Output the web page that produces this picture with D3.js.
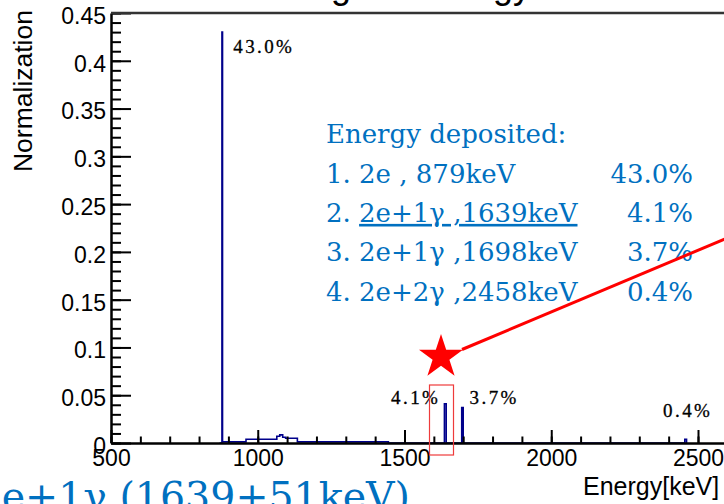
<!DOCTYPE html>
<html>
<head>
<meta charset="utf-8">
<title>Deposited energy</title>
<script src="https://cdn.jsdelivr.net/npm/d3@7"></script>
<style>
  body { margin: 0; background: #fff; }
  svg { display: block; }
</style>
</head>
<body>
<svg id="chart" width="724" height="504"></svg>
<script>
// histogram, left bin edges (keV) and bin contents
var binEdges  = [870, 878, 880, 960, 1065, 1075, 1085, 1095, 1135, 1445, 1636, 1642, 1695, 1700, 2455, 2461];
var binValues = [0, 0.430, 0.0012, 0.004, 0.007, 0.0085, 0.006, 0.005, 0.0012, 0, 0.041, 0, 0.037, 0, 0.004, 0];

// labelled peaks
var peakEnergy = [879, 1639, 1698, 2458];
var peakValue  = [0.430, 0.041, 0.037, 0.004];
var peakLabel  = ["43.0%", "4.1%", "3.7%", "0.4%"];

// axis ticks
var xMajor = [500, 1000, 1500, 2000, 2500, 3000];
var xMajorLabels = ["500", "1000", "1500", "2000", "2500", "3000"];
var xMinor = d3.range(500, 3001, 100);
var yMajor = [0, 0.05, 0.1, 0.15, 0.2, 0.25, 0.3, 0.35, 0.4, 0.45];
var yMajorLabels = ["0", "0.05", "0.1", "0.15", "0.2", "0.25", "0.3", "0.35", "0.4", "0.45"];
var yMinor = d3.range(0, 0.4501, 0.01);

// note box
var noteTitle = "Energy deposited:";
var noteNum   = ["1. ", "2. ", "3. ", "4. "];
var noteMode  = ["2e , 879keV", "2e+1\u03b3 ,1639keV", "2e+1\u03b3 ,1698keV", "2e+2\u03b3 ,2458keV"];
var notePct   = ["43.0%", "4.1%", "3.7%", "0.4%"];
var bottomText = "2e+1\u03b3 (1639+51keV)";

var svg = d3.select("#chart");

var x = d3.scaleLinear().domain([500, 3000]).range([111, 844.75]);
var y = d3.scaleLinear().domain([0, 0.45]).range([443, 13]);

// title (cut off at the top, only descenders show)
svg.append("text")
    .attr("x", 407).attr("y", -2)
    .attr("text-anchor", "middle")
    .attr("font-family", "Liberation Sans, Arial, sans-serif")
    .attr("font-size", 36)
    .text("Original Energy");

// histogram line
var pts = binEdges.map(function(e, i) { return [e, binValues[i]]; });
var line = d3.line()
    .x(function(d) { return x(d[0]); })
    .y(function(d) { return y(d[1]); })
    .curve(d3.curveStepAfter);

svg.append("path")
    .datum(pts)
    .attr("fill", "none")
    .attr("stroke", "#00008b")
    .attr("stroke-width", 1.6)
    .attr("d", line);

// minor ticks
svg.append("g")
    .attr("transform", "translate(" + x(500) + ",0)")
    .call(d3.axisLeft(y).tickValues(yMinor).tickSize(-10).tickSizeOuter(0).tickFormat(""))
    .call(function(g) { g.select(".domain").remove(); g.selectAll("line").attr("stroke-width", 2); });
svg.append("g")
    .attr("transform", "translate(0," + y(0) + ")")
    .call(d3.axisBottom(x).tickValues(xMinor).tickSize(-6.5).tickSizeOuter(0).tickFormat(""))
    .call(function(g) { g.select(".domain").remove(); g.selectAll("line").attr("stroke-width", 2); });

// major ticks and labels
var yAx = svg.append("g")
    .attr("transform", "translate(" + x(500) + ",0)")
    .call(d3.axisLeft(y).tickValues(yMajor).tickSize(-20).tickSizeOuter(0).tickPadding(5)
        .tickFormat(function(d, i) { return yMajorLabels[i]; }));
yAx.selectAll("line").attr("stroke-width", 2);
yAx.select(".domain").attr("stroke-width", 2.5);
yAx.selectAll("text")
    .attr("font-family", "Liberation Sans, Arial, sans-serif")
    .attr("font-size", 23)
    .attr("fill", "#000")
    .attr("dy", "0.45em");

var xAx = svg.append("g")
    .attr("transform", "translate(0," + y(0) + ")")
    .call(d3.axisBottom(x).tickValues(xMajor).tickSize(-13).tickSizeOuter(0).tickPadding(6)
        .tickFormat(function(d, i) { return xMajorLabels[i]; }));
xAx.selectAll("line").attr("stroke-width", 2);
xAx.select(".domain").attr("stroke-width", 2.5);
xAx.selectAll("text")
    .attr("font-family", "Liberation Sans, Arial, sans-serif")
    .attr("font-size", 23)
    .attr("fill", "#000")
    .attr("y", 0).attr("dy", 23);

// top frame
svg.append("line")
    .attr("x1", x(500)).attr("x2", 724)
    .attr("y1", y(0.45)).attr("y2", y(0.45))
    .attr("stroke", "#333").attr("stroke-width", 2.5);

// axis titles
svg.append("text")
    .attr("transform", "translate(32,10) rotate(-90)")
    .attr("text-anchor", "end")
    .attr("font-family", "Liberation Sans, Arial, sans-serif")
    .attr("font-size", 26.5)
    .text("Normalization");
svg.append("text")
    .attr("x", 583).attr("y", 495)
    .attr("font-family", "Liberation Sans, Arial, sans-serif")
    .attr("font-size", 25)
    .text("Energy[keV]");

// peak labels
var labelDx = [11, -5, 7, 2];
var labelAnchor = ["start", "end", "start", "middle"];
var labelY = [y(0.43) + 21, 404, 404, 417];
svg.selectAll(".peakLabel")
    .data(peakLabel)
    .enter().append("text")
    .attr("class", "peakLabel")
    .attr("x", function(d, i) { return x(peakEnergy[i]) + labelDx[i]; })
    .attr("y", function(d, i) { return labelY[i]; })
    .attr("text-anchor", function(d, i) { return labelAnchor[i]; })
    .attr("font-family", "Liberation Serif, Times New Roman, serif")
    .attr("font-size", 19)
    .attr("letter-spacing", 2.4)
    .attr("fill", "#000")
    .attr("stroke", "#000")
    .attr("stroke-width", 0.3)
    .text(function(d) { return d; });

// note box
var blue = "#0070c0";
var note = svg.append("g")
    .attr("font-family", "DejaVu Serif, serif")
    .attr("font-size", 26)
    .attr("fill", blue);
note.append("text").attr("x", 326).attr("y", 143).text(noteTitle);
noteMode.forEach(function(m, i) {
    var t = note.append("text").attr("x", 326).attr("y", 182.5 + i * 39.4);
    t.append("tspan").text(noteNum[i]);
    var s = t.append("tspan").text(m);
    if (i === 1) s.style("text-decoration", "underline");
    note.append("text")
        .attr("x", 693).attr("y", 182.5 + i * 39.4)
        .attr("text-anchor", "end")
        .text(notePct[i]);
});

// red box, star and arrow
svg.append("rect")
    .attr("x", 429.5).attr("y", 385)
    .attr("width", 24).attr("height", 70)
    .attr("fill", "none")
    .attr("stroke", "#ee3b3b").attr("stroke-width", 1.2);
svg.append("line")
    .attr("x1", 462).attr("y1", 349.5)
    .attr("x2", 726).attr("y2", 238.5)
    .attr("stroke", "#ff0000").attr("stroke-width", 3);
svg.append("path")
    .attr("transform", "translate(441,357)")
    .attr("d", d3.symbol().type(d3.symbolStar).size(600)())
    .attr("fill", "#ff0000");

// big caption at the bottom (cut off)
svg.append("text")
    .attr("x", 410).attr("y", 510)
    .attr("text-anchor", "end")
    .attr("font-family", "DejaVu Serif, serif")
    .attr("font-size", 39.5)
    .attr("fill", blue)
    .text(bottomText);
</script>
</body>
</html>
